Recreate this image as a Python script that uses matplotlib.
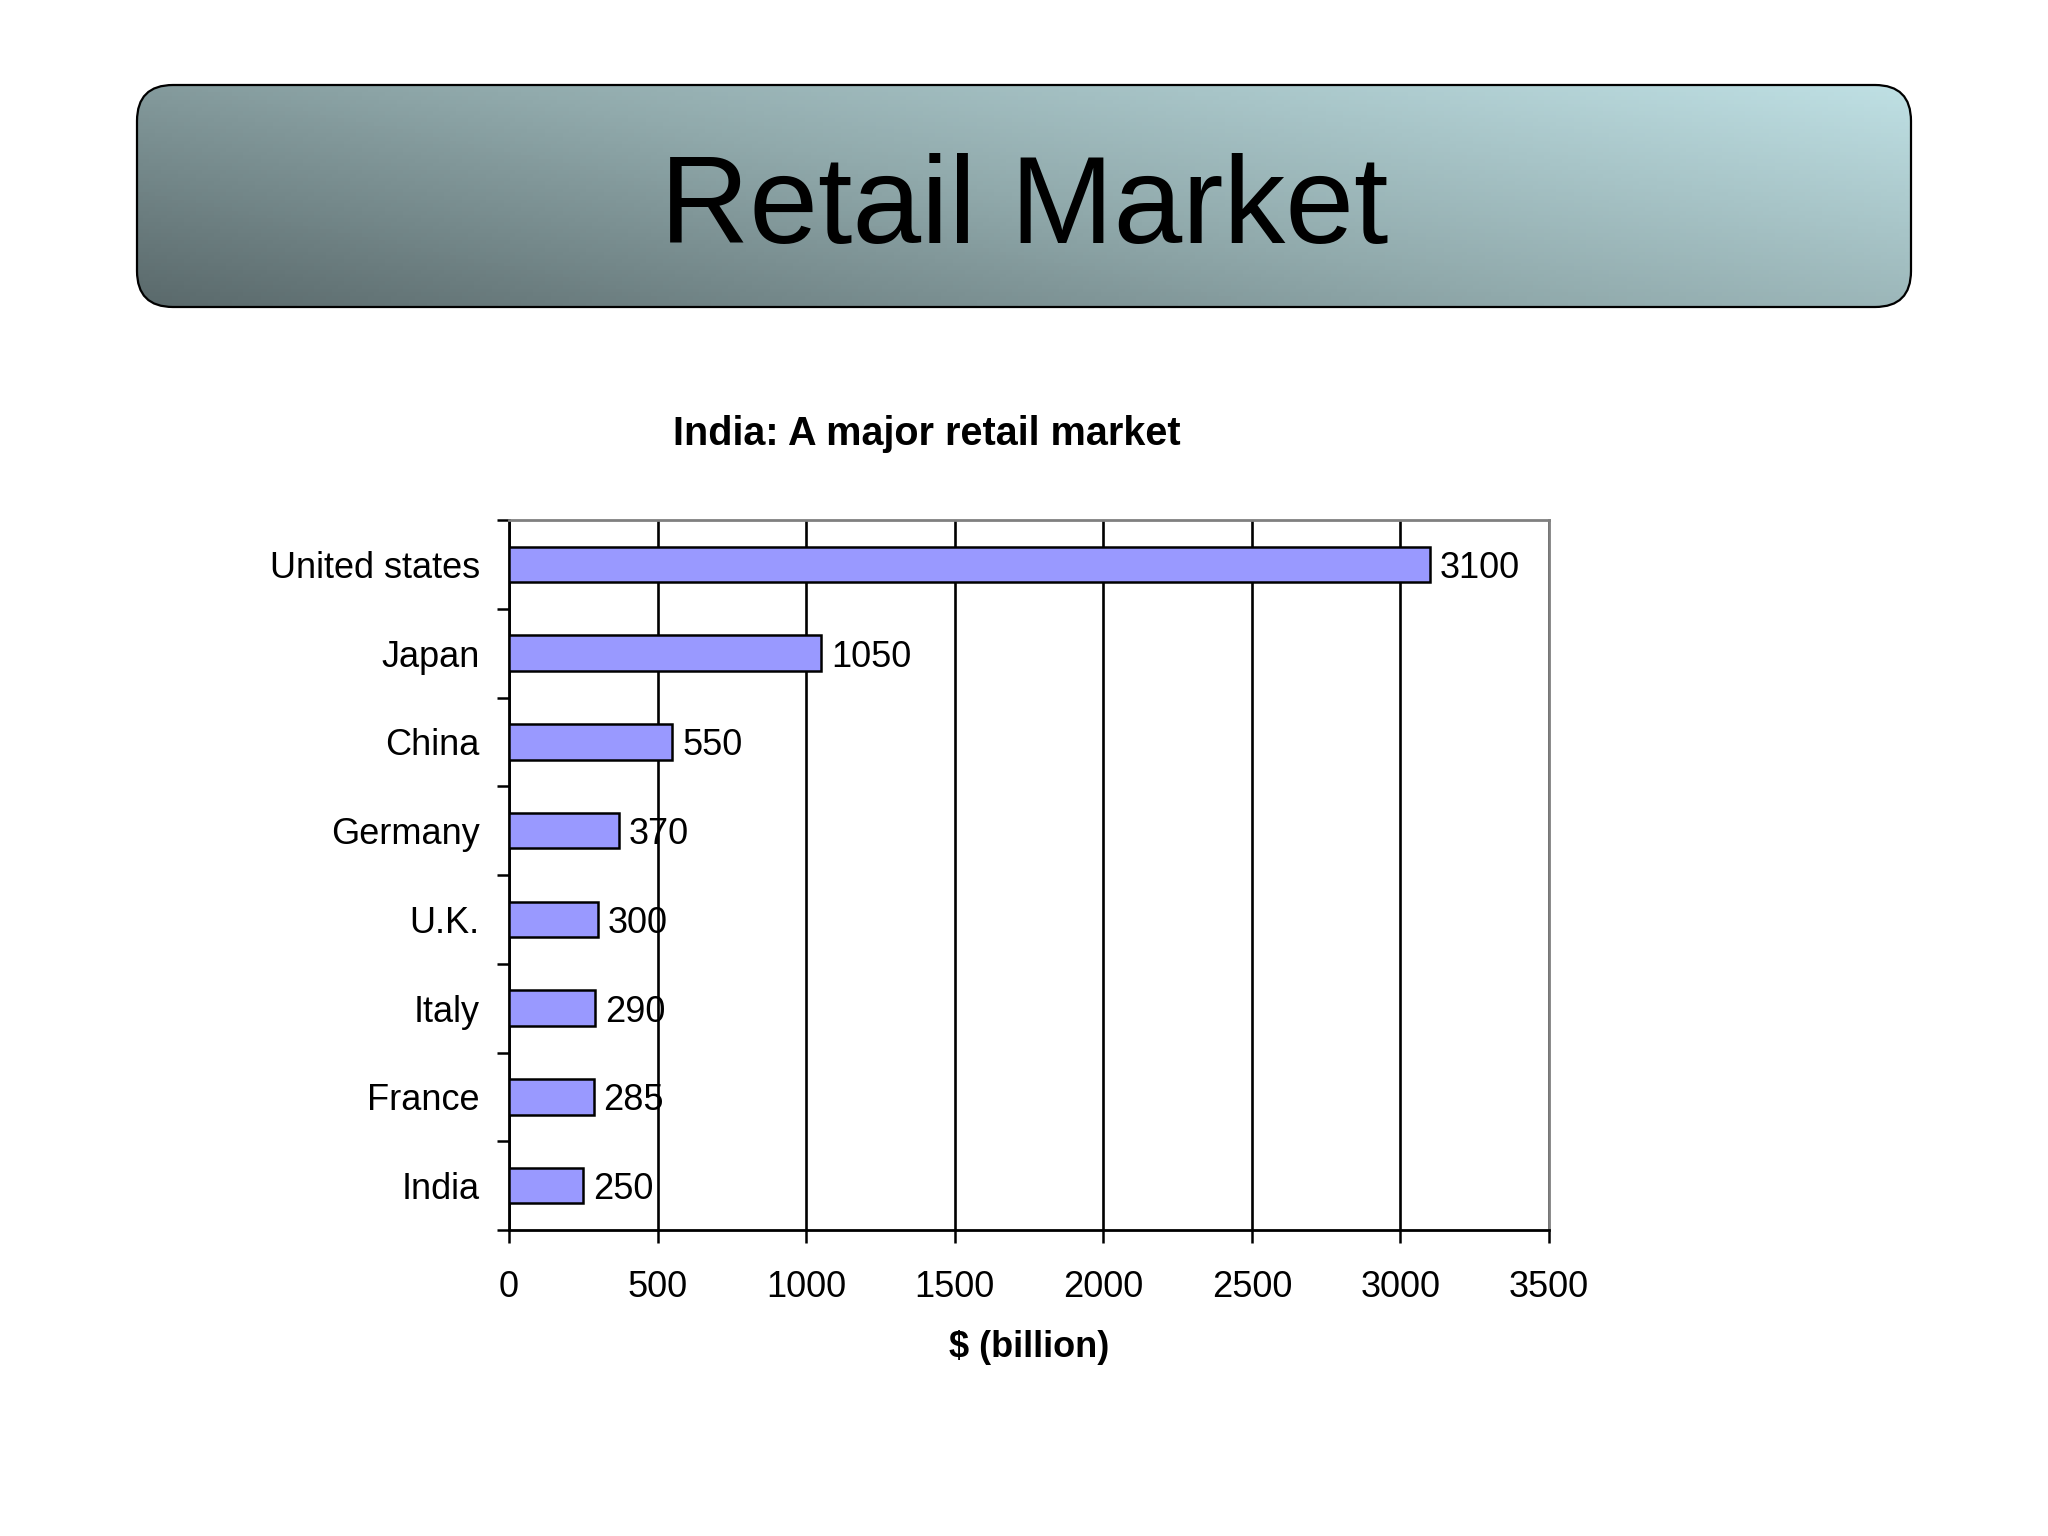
import numpy as np
import matplotlib
matplotlib.use("Agg")
import matplotlib.pyplot as plt
from matplotlib.patches import FancyBboxPatch
from matplotlib.colors import LinearSegmentedColormap
from matplotlib.ticker import FixedLocator

plt.rcParams['font.family'] = ['Liberation Sans', 'DejaVu Sans']

countries = ["United states", "Japan", "China", "Germany", "U.K.", "Italy", "France", "India"]
sales = [3100, 1050, 550, 370, 300, 290, 285, 250]
x_ticks = [0, 500, 1000, 1500, 2000, 2500, 3000, 3500]

W, H = 2048, 1536
fig = plt.figure(figsize=(W / 100, H / 100), dpi=100)
fig.patch.set_facecolor("white")

# title banner with gradient fill
bax = fig.add_axes([0, 0, 1, 1])
bax.set_xlim(0, W)
bax.set_ylim(H, 0)
bax.axis("off")
x0, x1, y0, y1 = 137, 1911, 85, 307
box = FancyBboxPatch((x0, y0), x1 - x0, y1 - y0,
                     boxstyle="round,pad=0,rounding_size=36",
                     facecolor="none", edgecolor="black", linewidth=1.6, zorder=3)
bax.add_patch(box)
gx, gy = np.meshgrid(np.linspace(0, 1, 300), np.linspace(0, 1, 60))
grad = 0.62 * gx + 0.38 * gy
cmap = LinearSegmentedColormap.from_list("banner", ["#5a696b", "#91aaac", "#bfe0e4"])
img = bax.imshow(grad, extent=(x0, x1, y1, y0), cmap=cmap, origin="lower",
                 aspect="auto", zorder=2)
img.set_clip_path(box)
bax.text((x0 + x1) / 2, 243, "Retail Market", fontsize=89, ha="center",
         va="baseline", color="black", zorder=4)

# chart
left, right, top, bottom = 509, 1549, 520, 1230
ax = fig.add_axes([left / W, 1 - bottom / H, (right - left) / W, (bottom - top) / H])
ax.set_facecolor("white")

ypos = np.arange(len(countries))[::-1]
ax.barh(ypos, sales, height=0.4, color="#9999ff", edgecolor="black",
        linewidth=1.8, zorder=3)
for y, v in zip(ypos, sales):
    ax.text(v + 33, y, str(v), va="center_baseline", ha="left", fontsize=26, zorder=4)

ax.set_xlim(0, 3500)
ax.set_ylim(-0.5, len(countries) - 0.5)
ax.set_xticks(x_ticks)
ax.set_xticklabels([str(t) for t in x_ticks], fontsize=26)
ax.set_yticks(ypos)
ax.set_yticklabels(countries, fontsize=26)
ax.yaxis.set_minor_locator(FixedLocator(np.arange(-0.5, len(countries), 1.0)))
ax.tick_params(axis="y", which="major", length=0, pad=21)
ax.tick_params(axis="y", which="minor", length=9, width=1.8, direction="out")
ax.tick_params(axis="x", which="major", length=9, width=1.8, direction="out", pad=20)

ax.grid(axis="x", color="black", linewidth=1.9, zorder=1)
ax.set_axisbelow(True)
for s in ["left", "bottom"]:
    ax.spines[s].set_color("black")
    ax.spines[s].set_linewidth(2.0)
for s in ["top", "right"]:
    ax.spines[s].set_color("#808080")
    ax.spines[s].set_linewidth(2.0)

ax.set_xlabel("$ (billion)", fontsize=26, fontweight="bold", labelpad=18)
fig.text(927 / W, 1 - 434 / H, "India: A major retail market", fontsize=28.5,
         fontweight="bold", ha="center", va="center")

fig.savefig("out.png", dpi=100)
